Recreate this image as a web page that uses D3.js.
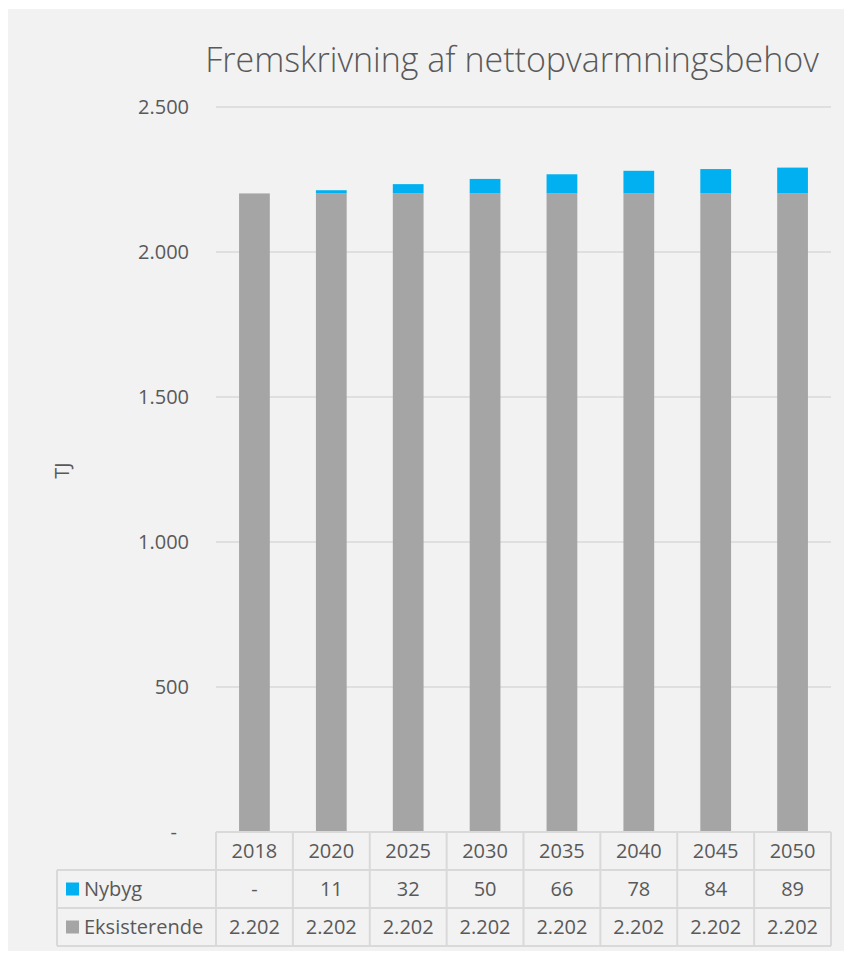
<!DOCTYPE html>
<html>
<head>
<meta charset="utf-8">
<script src="https://cdn.jsdelivr.net/npm/d3@7"></script>
<style>
  html, body { margin: 0; padding: 0; background: #ffffff; }
  svg { display: block; font-family: "Open Sans", "DejaVu Sans", sans-serif; }
</style>
</head>
<body>
<svg id="chart" width="844" height="954"></svg>
<script>
// Net heating demand projection (TJ)
const years = ["2018", "2020", "2025", "2030", "2035", "2040", "2045", "2050"];
const nybyg = [0, 11, 32, 50, 66, 78, 84, 89];
const eksisterende = [2202, 2202, 2202, 2202, 2202, 2202, 2202, 2202];
const yTicks = [0, 500, 1000, 1500, 2000, 2500];
const seriesNames = ["Nybyg", "Eksisterende"];
const seriesColors = ["#00b0f0", "#a5a5a5"];

const title = "Fremskrivning af nettopvarmningsbehov";
const yLabel = "TJ";

const fmt = v => v === 0 ? "-" : d3.format(",")(v).replace(/,/g, ".");

const svg = d3.select("#chart");
const textColor = "#595959";
const gridColor = "#d9d9d9";
const fontSize = 20;

// panel background
svg.append("rect").attr("x", 8).attr("y", 9).attr("width", 836).attr("height", 942)
  .attr("fill", "#f2f2f2");

const plot = { left: 216, right: 831, top: 107, bottom: 832 };

const x = d3.scaleBand().domain(years).range([plot.left, plot.right])
  .paddingInner(0.6).paddingOuter(0.3);
const xCol = d3.scaleBand().domain(years).range([plot.left, plot.right]).padding(0);
const y = d3.scaleLinear().domain([0, 2500]).range([plot.bottom, plot.top]);

// gridlines
svg.append("g").selectAll("line").data(yTicks.filter(t => t > 0)).join("line")
  .attr("x1", plot.left).attr("x2", plot.right)
  .attr("y1", d => y(d)).attr("y2", d => y(d))
  .attr("stroke", gridColor).attr("stroke-width", 1.3);

// y axis labels
const yAxis = d3.axisLeft(y).tickValues(yTicks).tickFormat(fmt).tickSize(0).tickPadding(0);
const ya = svg.append("g").attr("transform", "translate(189,0)").call(yAxis);
ya.select(".domain").remove();
ya.selectAll("text").attr("fill", textColor).attr("font-size", fontSize)
  .attr("font-family", "'Open Sans', sans-serif");
ya.selectAll(".tick").filter(d => d === 0).select("text").attr("dx", -12);

// y axis title
svg.append("text").attr("transform", `translate(69,${(plot.top + plot.bottom) / 2 + 1}) rotate(-90)`)
  .attr("text-anchor", "middle").attr("fill", textColor).attr("font-size", fontSize)
  .text(yLabel);

// stacked bars
const stackData = years.map((yr, i) => ({ year: yr, Eksisterende: eksisterende[i], Nybyg: nybyg[i] }));
const stack = d3.stack().keys(["Eksisterende", "Nybyg"])(stackData);
const colorOf = { Eksisterende: seriesColors[1], Nybyg: seriesColors[0] };
svg.append("g").selectAll("g").data(stack).join("g")
  .attr("fill", s => colorOf[s.key])
  .selectAll("rect").data(s => s).join("rect")
  .attr("x", d => x(d.data.year))
  .attr("width", x.bandwidth())
  .attr("y", d => y(d[1]))
  .attr("height", d => Math.max(0, y(d[0]) - y(d[1])));

// title
svg.append("text").attr("x", 512).attr("y", 72).attr("text-anchor", "middle")
  .attr("fill", textColor).attr("font-size", 34).attr("font-weight", 300)
  .text(title);

// data table
const rowH = 38;
const tableTop = plot.bottom;
const tableLeft = 57;
const rows = [
  { name: null, values: years },
  { name: seriesNames[0], color: seriesColors[0], values: nybyg.map(fmt) },
  { name: seriesNames[1], color: seriesColors[1], values: eksisterende.map(fmt) }
];
const tbl = svg.append("g");
const lineStyle = sel => sel.attr("stroke", gridColor).attr("stroke-width", 2).attr("fill", "none");

// horizontal lines
tbl.append("line").attr("x1", plot.left).attr("x2", plot.right)
  .attr("y1", tableTop).attr("y2", tableTop).call(lineStyle);
[1, 2, 3].forEach(k => {
  tbl.append("line").attr("x1", tableLeft).attr("x2", plot.right)
    .attr("y1", tableTop + k * rowH).attr("y2", tableTop + k * rowH).call(lineStyle);
});
// vertical lines
tbl.append("line").attr("x1", tableLeft).attr("x2", tableLeft)
  .attr("y1", tableTop + rowH).attr("y2", tableTop + 3 * rowH).call(lineStyle);
years.forEach(yr => {
  tbl.append("line").attr("x1", xCol(yr)).attr("x2", xCol(yr))
    .attr("y1", tableTop).attr("y2", tableTop + 3 * rowH).call(lineStyle);
});
tbl.append("line").attr("x1", plot.right).attr("x2", plot.right)
  .attr("y1", tableTop).attr("y2", tableTop + 3 * rowH).call(lineStyle);

rows.forEach((r, ri) => {
  const cy = tableTop + ri * rowH + rowH / 2;
  tbl.append("g").selectAll("text").data(r.values).join("text")
    .attr("x", (d, i) => xCol(years[i]) + xCol.bandwidth() / 2)
    .attr("y", cy).attr("dy", "0.35em").attr("text-anchor", "middle")
    .attr("fill", textColor).attr("font-size", fontSize)
    .text(d => d);
  if (r.name) {
    tbl.append("rect").attr("x", 66).attr("y", cy - 6.5).attr("width", 13).attr("height", 13)
      .attr("fill", r.color);
    tbl.append("text").attr("x", 84).attr("y", cy).attr("dy", "0.35em")
      .attr("fill", textColor).attr("font-size", fontSize).text(r.name);
  }
});
</script>
</body>
</html>
